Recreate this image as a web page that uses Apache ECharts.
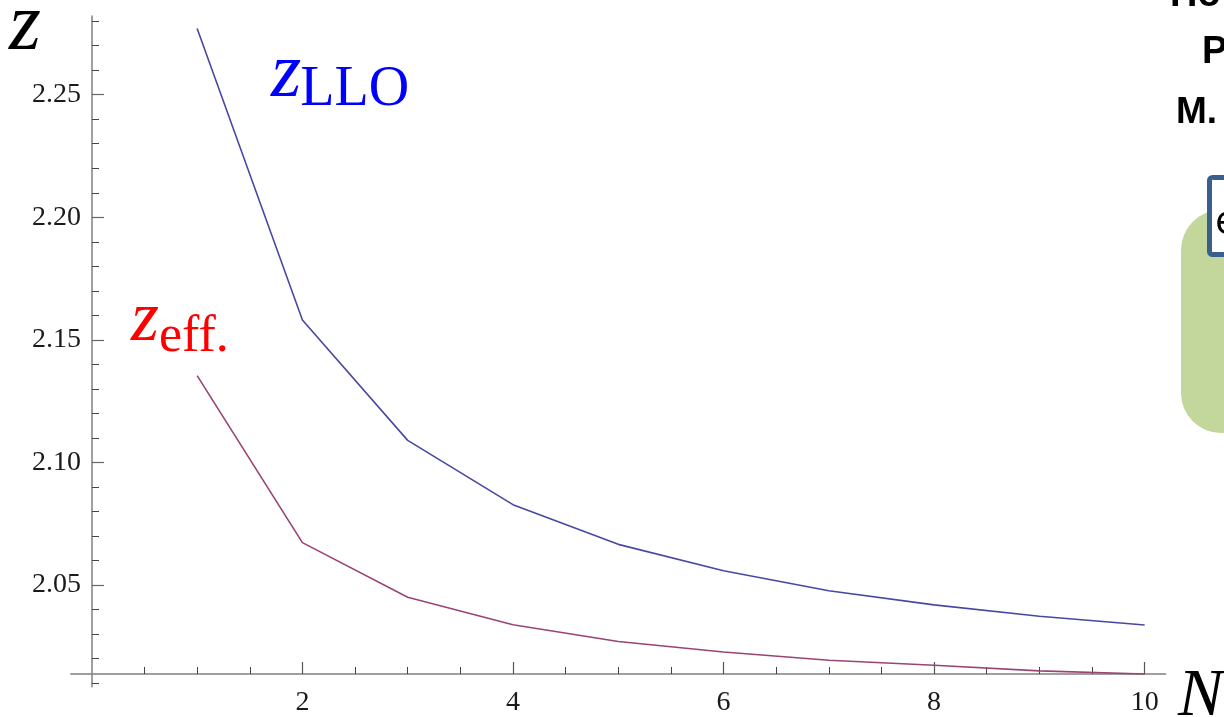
<!DOCTYPE html>
<html>
<head>
<meta charset="utf-8">
<script src="https://cdn.jsdelivr.net/npm/echarts@6/dist/echarts.min.js"></script>
<style>html,body{margin:0;padding:0;background:#fff;}#c{width:1224px;height:717px;}</style>
</head>
<body>
<div id="c"></div>
<script>
// ---- data ----
const N = [1, 2, 3, 4, 5, 6, 7, 8, 9, 10];
const zLLO = [2.2770, 2.1581, 2.1090, 2.0828, 2.0666, 2.0558, 2.0477, 2.0419, 2.0373, 2.0337];
const zEff = [2.1354, 2.0673, 2.0450, 2.0338, 2.0270, 2.0227, 2.0193, 2.0173, 2.0150, 2.0137];
const xMajorTicks = [2, 4, 6, 8, 10];
const xMinorTicks = [0.5, 1, 1.5, 2.5, 3, 3.5, 4.5, 5, 5.5, 6.5, 7, 7.5, 8.5, 9, 9.5];
const yMajorTicks = [2.05, 2.10, 2.15, 2.20, 2.25];
const yMinorTicks = [2.01, 2.02, 2.03, 2.04, 2.06, 2.07, 2.08, 2.09, 2.11, 2.12, 2.13, 2.14,
                     2.16, 2.17, 2.18, 2.19, 2.21, 2.22, 2.23, 2.24, 2.26, 2.27, 2.28];
const yLabels = ['2.05', '2.10', '2.15', '2.20', '2.25'];

const chart = echarts.init(document.getElementById('c'), null, {renderer: 'canvas'});
const serif = 'Liberation Serif, DejaVu Serif, serif';
const sans = 'Liberation Sans, Arial, sans-serif';
const axisGray = '#808080';
const X_MIN = -0.2, X_MAX = 10.2, Y_MIN = 2.0085, Y_MAX = 2.2821;
const GRID_LEFT = 70.8;
const X_OFF = -12.8;               // x axis crosses the y axis at z ≈ 2.0137
const Y_OFF = -(92 - GRID_LEFT);   // y axis sits at N = 0

function xAxisBase(extra) {
  return Object.assign({
    type: 'value', min: X_MIN, max: X_MAX, position: 'bottom', offset: X_OFF,
    axisLine: {onZero: false, show: true, lineStyle: {color: axisGray, width: 1.5}},
    splitLine: {show: false}
  }, extra);
}
function yAxisBase(extra) {
  return Object.assign({
    type: 'value', min: Y_MIN, max: Y_MAX, position: 'left', offset: Y_OFF,
    axisLine: {onZero: false, show: true, lineStyle: {color: axisGray, width: 1.5}},
    splitLine: {show: false}
  }, extra);
}

const option = {
  backgroundColor: '#ffffff',
  animation: false,
  grid: {left: GRID_LEFT, right: 58.3, top: 16, bottom: 27, containLabel: false},
  xAxis: [
    xAxisBase({
      axisTick: {show: true, inside: true, length: 12, customValues: xMajorTicks, lineStyle: {color: '#555', width: 1.2}},
      axisLabel: {show: true, customValues: xMajorTicks, margin: 15, color: '#1a1a1a', fontFamily: serif, fontSize: 28}
    }),
    xAxisBase({
      axisLine: {show: false, onZero: false},
      axisTick: {show: true, inside: true, length: 7, customValues: xMinorTicks, lineStyle: {color: '#444', width: 1}},
      axisLabel: {show: false}
    })
  ],
  yAxis: [
    yAxisBase({
      axisTick: {show: true, inside: true, length: 12, customValues: yMajorTicks, lineStyle: {color: '#666', width: 1.2}},
      axisLabel: {show: true, customValues: yMajorTicks, margin: 11, color: '#1a1a1a', fontFamily: serif, fontSize: 28,
        formatter: function (v) { return yLabels[yMajorTicks.findIndex(t => Math.abs(t - v) < 1e-6)] || v.toFixed(2); }}
    }),
    yAxisBase({
      axisLine: {show: false, onZero: false},
      axisTick: {show: true, inside: true, length: 7, customValues: yMinorTicks, lineStyle: {color: '#444', width: 1}},
      axisLabel: {show: false}
    })
  ],
  series: [
    {
      name: 'zLLO', type: 'line', xAxisIndex: 0, yAxisIndex: 0,
      data: N.map((n, i) => [n, zLLO[i]]),
      showSymbol: false, symbol: 'none',
      lineStyle: {color: '#4848a2', width: 1.6}
    },
    {
      name: 'zeff', type: 'line', xAxisIndex: 0, yAxisIndex: 0,
      data: N.map((n, i) => [n, zEff[i]]),
      showSymbol: false, symbol: 'none',
      lineStyle: {color: '#9a4474', width: 1.6}
    }
  ]
};
chart.setOption(option);

// annotations placed through the chart's own coordinate system
function px(x, y) { return chart.convertToPixel({gridIndex: 0}, [x, y]); }
const pLLO = px(1.98, 2.25);
const pEff = px(0.637, 2.1455);

function t(x, y, text, font, fill, align) {
  return {type: 'text', x: x, y: y, z: 100,
    style: {text: text, font: font, fill: fill, align: align || 'left', verticalAlign: 'bottom'}};
}

chart.setOption({
  graphic: [
    // axis names
    t(9, 68, 'z', 'italic 82px ' + serif, '#000'),
    t(1178, 731, 'N', 'italic 68px ' + serif, '#000'),
    // curve labels
    t(pLLO[0] + 1, pLLO[1] + 20, 'z', 'italic 78px ' + serif, '#0000ff', 'right'),
    t(pLLO[0], pLLO[1] + 24, 'LLO', '56px ' + serif, '#0000ff'),
    t(pEff[0], pEff[1] + 6, 'z', 'italic 72px ' + serif, '#ff0000', 'right'),
    t(pEff[0], pEff[1] + 12, 'eff.', '52px ' + serif, '#ff0000'),
    // slide fragments on the right edge
    t(1170, 15, 'Ho', 'bold 38px ' + sans, '#000'),
    t(1202, 72, 'P', 'bold 38px ' + sans, '#000'),
    t(1176, 131, 'M.', 'bold 37px ' + sans, '#000'),
    {type: 'rect', z: 90, shape: {x: 1181, y: 210, width: 120, height: 223, r: 40}, style: {fill: '#c3d69b'}},
    {type: 'rect', z: 91, shape: {x: 1209.5, y: 177.5, width: 60, height: 77, r: 3}, style: {fill: '#ffffff', stroke: '#3a5f8f', lineWidth: 5}},
    t(1215, 243, 'e', '40px Open Sans, Liberation Sans, sans-serif', '#000')
  ]
});
</script>
</body>
</html>
